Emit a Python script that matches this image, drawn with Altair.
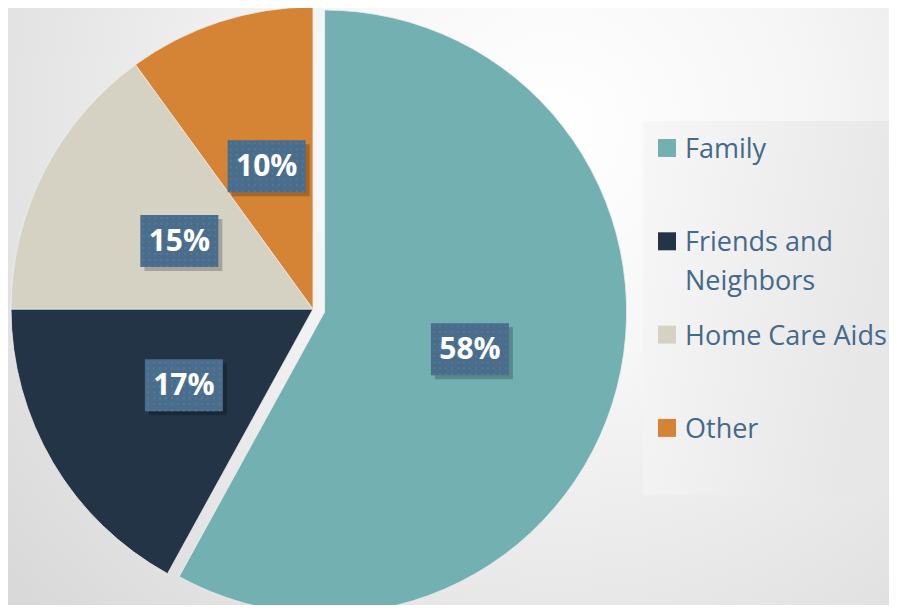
import altair as alt
import pandas as pd

# ---- data ----
categories = ["Family", "Friends and Neighbors", "Home Care Aids", "Other"]
shares = [58, 17, 15, 10]
pct_labels = ["58%", "17%", "15%", "10%"]
legend_labels = ["Family", "Friends and\nNeighbors", "Home Care Aids", "Other"]
slice_colors = ["#72b0b2", "#233446", "#d5d2c4", "#d58334"]

df = pd.DataFrame({
    "cat": categories,
    "share": shares,
    "label": pct_labels,
    "legend": legend_labels,
    "order": list(range(len(categories))),
})

W, H = 881, 597
CX, CY, R = 305, 301, 302
EXPLODE = 12
LABEL_R = 150

color_scale = alt.Scale(domain=categories, range=slice_colors)

# background with radial gradient
bg = alt.Chart(alt.Data(values=[{}])).mark_rect(
    color=alt.Gradient(
        gradient="radial", x1=0.62, y1=0.3, r1=0.0, x2=0.62, y2=0.3, r2=0.8,
        stops=[alt.GradientStop(offset=0, color="#ffffff"),
               alt.GradientStop(offset=0.35, color="#f6f6f6"),
               alt.GradientStop(offset=1, color="#d9d9d9")],
    )
).encode(x=alt.value(0), x2=alt.value(W), y=alt.value(0), y2=alt.value(H))

base = (
    alt.Chart(df)
    .transform_joinaggregate(total="sum(share)")
    .transform_window(cum="sum(share)", sort=[alt.SortField("order")], frame=[None, 0])
    .transform_calculate(t0="2*PI*(datum.cum - datum.share)/datum.total")
    .transform_calculate(t1="2*PI*datum.cum/datum.total")
    .transform_calculate(tm="(datum.t0 + datum.t1)/2")
    .transform_calculate(ex=f"datum.cat == 'Family' ? {EXPLODE} : 0")
    .transform_calculate(cx=f"{CX} + datum.ex*sin(datum.tm)")
    .transform_calculate(cy=f"{CY} - datum.ex*cos(datum.tm)")
    .transform_calculate(lx=f"datum.cx + {LABEL_R}*sin(datum.tm)")
    .transform_calculate(ly=f"datum.cy - {LABEL_R}*cos(datum.tm)")
)

arcs = base.mark_arc(outerRadius=R, stroke="#eeeeee", strokeWidth=0.8).encode(
    theta=alt.Theta("t0:Q", scale=None),
    theta2="t1:Q",
    x=alt.X("cx:Q", scale=None, axis=None),
    y=alt.Y("cy:Q", scale=None, axis=None),
    color=alt.Color("cat:N", scale=color_scale, legend=None),
)

BW, BH = 39, 26
boxes_base = base.transform_calculate(
    bx0=f"datum.lx - {BW}", bx1=f"datum.lx + {BW}",
    by0=f"datum.ly - {BH}", by1=f"datum.ly + {BH}",
)

shadow = boxes_base.transform_calculate(
    sx0="datum.bx0 + 4", sx1="datum.bx1 + 4", sy0="datum.by0 + 4", sy1="datum.by1 + 4"
).mark_rect(color="#000000", opacity=0.22).encode(
    x=alt.X("sx0:Q", scale=None, axis=None), x2="sx1:Q",
    y=alt.Y("sy0:Q", scale=None, axis=None), y2="sy1:Q",
)

boxes = boxes_base.mark_rect(color="#4a6d8c").encode(
    x=alt.X("bx0:Q", scale=None, axis=None), x2="bx1:Q",
    y=alt.Y("by0:Q", scale=None, axis=None), y2="by1:Q",
)

dots = (
    boxes_base
    .transform_calculate(gx="sequence(0, 13)")
    .transform_flatten(["gx"])
    .transform_calculate(gy="sequence(0, 9)")
    .transform_flatten(["gy"])
    .transform_calculate(dx="datum.bx0 + 3 + datum.gx*6", dy="datum.by0 + 3 + datum.gy*6")
    .mark_square(size=4, color="#5c84a6", opacity=0.55)
    .encode(x=alt.X("dx:Q", scale=None, axis=None), y=alt.Y("dy:Q", scale=None, axis=None))
)

texts = base.mark_text(
    font="Open Sans", fontSize=30, fontWeight="bold", color="#ffffff", baseline="middle", dy=1
).encode(
    x=alt.X("lx:Q", scale=None, axis=None),
    y=alt.Y("ly:Q", scale=None, axis=None),
    text="label:N",
)

# legend panel
LX0, LY0 = 635, 113
legend_box = alt.Chart(alt.Data(values=[{}])).mark_rect(
    color=alt.Gradient(
        gradient="linear", x1=0, y1=0, x2=1, y2=0.3,
        stops=[alt.GradientStop(offset=0, color="#f7f7f7"),
               alt.GradientStop(offset=1, color="#e7e7e7")],
    )
).encode(x=alt.value(LX0), x2=alt.value(W), y=alt.value(LY0), y2=alt.value(487))

leg = alt.Chart(df).transform_calculate(
    ly=f"{LY0 + 27} + 93.3*datum.order"
)
swatches = leg.mark_square(size=324, opacity=1).encode(
    x=alt.value(659),
    y=alt.Y("ly:Q", scale=None, axis=None),
    color=alt.Color("cat:N", scale=color_scale, legend=None),
)
leg_text = leg.transform_calculate(ty="datum.ly + 10").mark_text(
    font="Open Sans", fontSize=27, color="#44698b", align="left",
    baseline="alphabetic", lineBreak="\n", lineHeight=39,
).encode(
    x=alt.value(677),
    y=alt.Y("ty:Q", scale=None, axis=None),
    text="legend:N",
)

chart = alt.layer(
    bg, arcs, shadow, boxes, dots, texts, legend_box, swatches, leg_text
).properties(
    width=W, height=H, padding=0, autosize=alt.AutoSizeParams(type="none")
).configure_view(stroke=None)

chart.save("out.html", embed_options={"renderer": "svg", "actions": False})
